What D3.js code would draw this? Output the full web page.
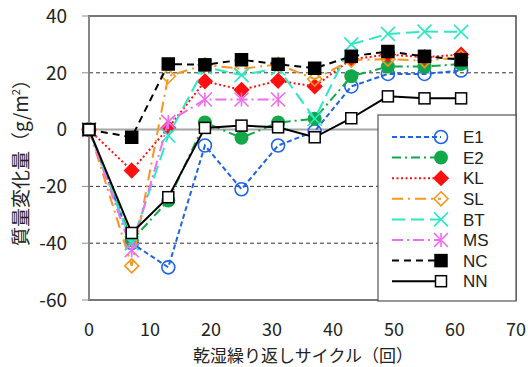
<!DOCTYPE html>
<html>
<head>
<meta charset="utf-8">
<script src="https://cdn.jsdelivr.net/npm/d3@7"></script>
<style>
  body { margin: 0; background: #fff; }
  text { font-family: "Noto Sans CJK JP", "Noto Sans", sans-serif; fill: #222; }
  .legend text { font-family: "Liberation Sans", sans-serif; }
</style>
</head>
<body>
<svg id="chart" width="528" height="367"></svg>
<script>
// cycles (x)
const cycles = [0, 7, 13, 19, 25, 31, 37, 43, 49, 55, 61]

// mass change per series (g/m2)
const E1 = [0, -40, -48.5, -5.6, -21, -5.6, -0.6, 15.2, 19.6, 19.6, 20.8]
const E2 = [0, -39, -25, 2.5, -2.9, 2.5, 3.8, 18.8, 22.2, 22.2, 23.1]
const KL = [0, -14.4, 0.6, 17, 14, 17.2, 15.2, 24.8, 26.4, 25.5, 26.4]
const SL = [0, -48, 18.8, 22.8, 21.4, 23, 17.8, 24.5, 24.8, 24.3, 25.4]
const BT = [0, -40, -2.1, 22, 19.2, 21.6, 3.8, 30, 33.7, 34.5, 34.4]
const MS = [0, -42.5, 2.7, 10.6, 10.6, 10.6]
const NC = [0, -2.7, 23.1, 22.8, 24.6, 23, 21.6, 25.8, 27.5, 25.8, 24.6]
const NN = [0, -36.4, -23.8, 0.6, 1.4, 0.8, -2.7, 4, 11.7, 11, 11]

const seriesNames = ['E1', 'E2', 'KL', 'SL', 'BT', 'MS', 'NC', 'NN']
const seriesValues = [E1, E2, KL, SL, BT, MS, NC, NN]

const yTicks = [-60, -40, -20, 0, 20, 40]
const xTicks = [0, 10, 20, 30, 40, 50, 60, 70]

const styles = {
  E1: { color: '#1f63e6', dash: '5,3', marker: 'ocircle' },
  E2: { color: '#11a84a', dash: '9,4,2,4', marker: 'circle' },
  KL: { color: '#ff1010', dash: '2,2.5', marker: 'diamond' },
  SL: { color: '#f7961e', dash: '11,5,2,5', marker: 'odiamond' },
  BT: { color: '#2ee8c4', dash: '13,6', marker: 'x' },
  MS: { color: '#f06cf0', dash: '11,4,2,4', marker: 'star' },
  NC: { color: '#000000', dash: '7,5', marker: 'square' },
  NN: { color: '#000000', dash: null, marker: 'osquare' }
}

const svg = d3.select('#chart')
const plotL = 89, plotR = 516, plotT = 16, plotB = 300

const x = d3.scaleLinear().domain([0, 70]).range([plotL, plotR])
const y = d3.scaleLinear().domain([-60, 40]).range([plotB, plotT])

// gridlines
svg.append('g')
  .selectAll('line')
  .data(yTicks.filter(d => d !== -60 && d !== 40))
  .enter().append('line')
  .attr('x1', plotL).attr('x2', plotR)
  .attr('y1', d => y(d)).attr('y2', d => y(d))
  .attr('stroke', d => d === 0 ? '#a6a6a6' : '#333')
  .attr('stroke-width', d => d === 0 ? 2 : 1)
  .attr('stroke-dasharray', d => d === 0 ? null : '4,3')

// y ticks marks
svg.append('g')
  .selectAll('line')
  .data(yTicks)
  .enter().append('line')
  .attr('x1', plotL - 7).attr('x2', plotL)
  .attr('y1', d => y(d)).attr('y2', d => y(d))
  .attr('stroke', '#8c8c8c')
  .attr('stroke-width', 1)

// frame
svg.append('rect')
  .attr('x', plotL).attr('y', plotT)
  .attr('width', plotR - plotL).attr('height', plotB - plotT)
  .attr('fill', 'none')
  .attr('stroke', '#555')
  .attr('stroke-width', 1.6)
svg.append('line')
  .attr('x1', plotL).attr('x2', plotL)
  .attr('y1', plotT).attr('y2', plotB)
  .attr('stroke', '#8c8c8c').attr('stroke-width', 1.6)

// tick labels
svg.append('g')
  .selectAll('text')
  .data(yTicks)
  .enter().append('text')
  .attr('x', 67)
  .attr('y', d => y(d))
  .attr('dy', '0.36em')
  .attr('text-anchor', 'end')
  .attr('font-size', 19)
  .text(d => d)

svg.append('g')
  .selectAll('text')
  .data(xTicks)
  .enter().append('text')
  .attr('x', d => x(d))
  .attr('y', 330)
  .attr('dy', '0.36em')
  .attr('text-anchor', 'middle')
  .attr('font-size', 18)
  .text(d => d)

// axis titles
svg.append('text')
  .attr('x', 303).attr('y', 356)
  .attr('dy', '0.36em')
  .attr('text-anchor', 'middle')
  .attr('font-size', 17)
  .text('乾湿繰り返しサイクル（回）')

const yTitle = svg.append('text')
  .attr('transform', 'translate(21,158) rotate(-90)')
  .attr('dy', '0.36em')
  .attr('text-anchor', 'middle')
  .attr('font-size', 19)
yTitle.append('tspan').text('質量変化量（g/m')
yTitle.append('tspan').attr('font-size', 11).attr('dy', '-0.7em').text('2')
yTitle.append('tspan').attr('dy', '0.45em').text('）')

// markers
function drawMarker(g, type, color, cx, cy) {
  if (type === 'ocircle') {
    g.append('circle').attr('cx', cx).attr('cy', cy).attr('r', 6.5)
      .attr('fill', 'none').attr('stroke', color).attr('stroke-width', 1.6)
  } else if (type === 'circle') {
    g.append('circle').attr('cx', cx).attr('cy', cy).attr('r', 7)
      .attr('fill', color)
  } else if (type === 'diamond' || type === 'odiamond') {
    let s = 7
    g.append('path')
      .attr('d', `M${cx},${cy - s}L${cx + s},${cy}L${cx},${cy + s}L${cx - s},${cy}Z`)
      .attr('fill', type === 'diamond' ? color : 'none')
      .attr('stroke', color).attr('stroke-width', 1.6)
  } else if (type === 'x') {
    let s = 7
    g.append('path')
      .attr('d', `M${cx - s},${cy - s}L${cx + s},${cy + s}M${cx - s},${cy + s}L${cx + s},${cy - s}`)
      .attr('stroke', color).attr('stroke-width', 1.6)
  } else if (type === 'star') {
    let s = 7
    g.append('path')
      .attr('d', `M${cx - s},${cy - s}L${cx + s},${cy + s}M${cx - s},${cy + s}L${cx + s},${cy - s}M${cx},${cy - s}L${cx},${cy + s}`)
      .attr('stroke', color).attr('stroke-width', 1.6)
  } else if (type === 'square' || type === 'osquare') {
    let s = type === 'square' ? 6 : 5.5
    g.append('rect').attr('x', cx - s).attr('y', cy - s)
      .attr('width', 2 * s).attr('height', 2 * s)
      .attr('fill', type === 'square' ? color : '#fff')
      .attr('stroke', color).attr('stroke-width', 1.5)
  }
}

const line = d3.line()
  .x(d => x(d[0]))
  .y(d => y(d[1]))

seriesNames.forEach((name, i) => {
  const st = styles[name]
  const pts = seriesValues[i].map((v, j) => [cycles[j], v])
  const g = svg.append('g')
  g.append('path')
    .attr('d', line(pts))
    .attr('fill', 'none')
    .attr('stroke', st.color)
    .attr('stroke-width', 2)
    .attr('stroke-dasharray', st.dash)
  pts.forEach(p => drawMarker(g, st.marker, st.color, x(p[0]), y(p[1])))
})

// legend
const lg = svg.append('g').attr('class', 'legend')
lg.append('rect')
  .attr('x', 378).attr('y', 115)
  .attr('width', 138).attr('height', 186)
  .attr('fill', '#fff')
  .attr('stroke', '#555')
  .attr('stroke-width', 1.2)

seriesNames.forEach((name, i) => {
  const st = styles[name]
  const ly = 137 + i * 20.6
  lg.append('line')
    .attr('x1', 392).attr('x2', 441)
    .attr('y1', ly).attr('y2', ly)
    .attr('stroke', st.color)
    .attr('stroke-width', 2)
    .attr('stroke-dasharray', st.dash)
  drawMarker(lg, st.marker, st.color, 441, ly)
  lg.append('text')
    .attr('x', 463).attr('y', ly)
    .attr('dy', '0.36em')
    .attr('font-size', 17)
    .text(name)
})
</script>
</body>
</html>
